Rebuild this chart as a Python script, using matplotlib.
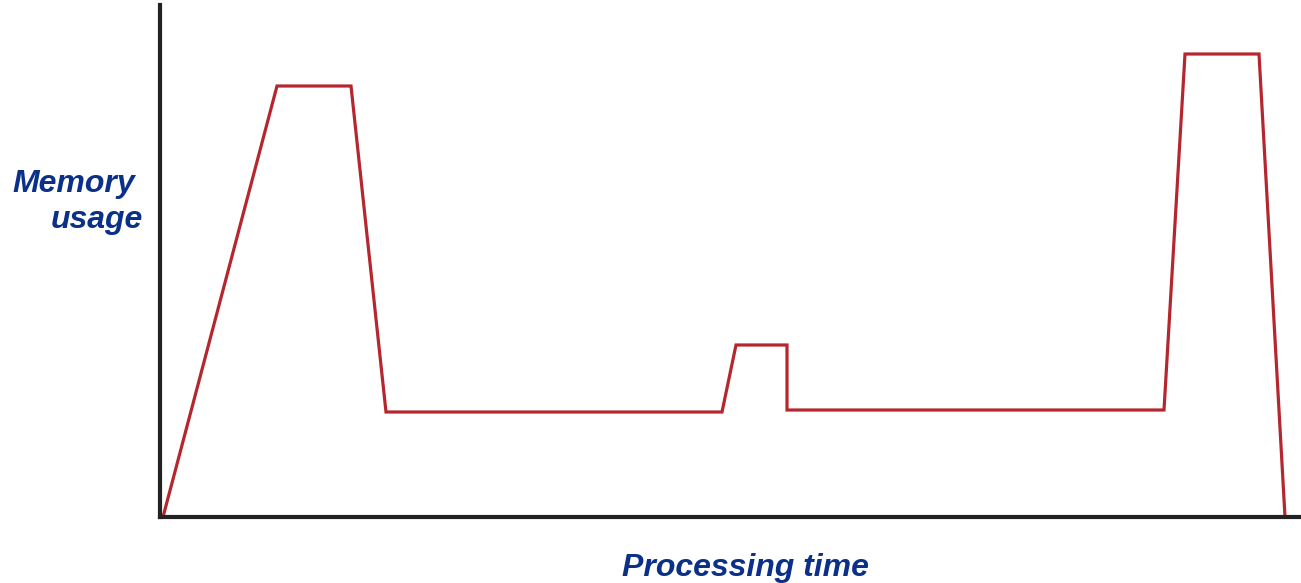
import matplotlib.pyplot as plt

# Memory usage over processing time (schematic, arbitrary units)
time = [3, 117, 191, 226, 562, 576, 627, 627, 1004, 1025, 1099, 1125]
memory = [0, 431, 431, 105, 105, 172, 172, 107, 107, 463, 463, 0]

W, H = 1301, 583
fig = plt.figure(figsize=(W / 100, H / 100), dpi=100)
ax = fig.add_axes([160 / W, (H - 517) / H, 1141 / W, 512 / H])

ax.plot(time, memory, color='#b5272e', lw=2.3, solid_joinstyle='miter', clip_on=False)
ax.set_xlim(0, 1141)
ax.set_ylim(0, 512)

for side in ['top', 'right']:
    ax.spines[side].set_visible(False)
for side in ['left', 'bottom']:
    ax.spines[side].set_color('#222222')
    ax.spines[side].set_linewidth(3)
ax.set_xticks([])
ax.set_yticks([])

label_style = dict(family='Liberation Sans', weight='bold', style='italic',
                   color='#0a3088', fontsize=23)
fig.text(135 / W, 1 - 184 / H, 'Memory', ha='right', va='center', **label_style)
fig.text(143 / W, 1 - 220 / H, 'usage', ha='right', va='center', **label_style)
fig.text(745 / W, 1 - 568 / H, 'Processing time', ha='center', va='center',
         **label_style)

fig.savefig('out.png', dpi=100)
